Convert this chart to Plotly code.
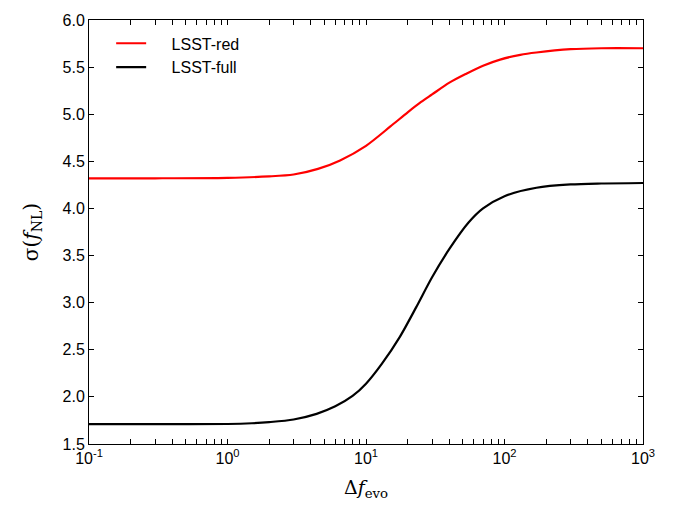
import plotly.graph_objects as go

# Data
x_red = [0.1, 0.3, 1.0, 2.0, 3.0, 4.5, 6.5, 10, 15, 20, 25, 30, 40, 53, 70, 93, 130, 170, 300, 500, 1000]
y_red = [4.32, 4.32, 4.325, 4.34, 4.36, 4.42, 4.51, 4.665, 4.87, 5.02, 5.13, 5.21, 5.335, 5.43, 5.515, 5.58, 5.63, 5.655, 5.69, 5.70, 5.70]

x_full = [0.1, 0.3, 1.0, 1.5, 2.0, 3.0, 4.4, 6.0, 8.0, 10, 13, 17.6, 23, 30, 40, 55, 70, 100, 170, 300, 500, 1000]
y_full = [1.71, 1.71, 1.712, 1.72, 1.732, 1.76, 1.82, 1.90, 2.01, 2.14, 2.35, 2.64, 2.95, 3.27, 3.57, 3.85, 4.00, 4.13, 4.22, 4.255, 4.265, 4.27]

x_major_vals = [0.1, 1, 10, 100, 1000]
x_major_text = ["10<sup>-1</sup>", "10<sup>0</sup>", "10<sup>1</sup>", "10<sup>2</sup>", "10<sup>3</sup>"]
x_minor_vals = [m * d for d in [0.1, 1, 10, 100] for m in range(2, 10)]
x_tickvals = x_major_vals + x_minor_vals
x_ticktext = x_major_text + [""] * len(x_minor_vals)
y_tickvals = [1.5, 2.0, 2.5, 3.0, 3.5, 4.0, 4.5, 5.0, 5.5, 6.0]
y_ticktext = [f"{v:.1f}" for v in y_tickvals]

pad = "\u2002\u2002 "

fig = go.Figure()
fig.add_trace(go.Scatter(x=x_red, y=y_red, mode="lines", name=pad + "LSST-red",
                         line=dict(color="#ff0000", width=2.2, shape="spline", smoothing=0.8)))
fig.add_trace(go.Scatter(x=x_full, y=y_full, mode="lines", name=pad + "LSST-full",
                         line=dict(color="#000000", width=2.2, shape="spline", smoothing=0.8)))

axis_common = dict(
    showgrid=False, zeroline=False, showline=True, linecolor="black", linewidth=1,
    mirror="ticks", ticks="inside", tickcolor="black", ticklen=5, tickwidth=1,
    tickfont=dict(family="Liberation Sans, Arial, sans-serif", size=16, color="black"),
)

fig.update_xaxes(
    type="log", range=[-1, 3], tickmode="array", tickvals=x_tickvals, ticktext=x_ticktext,
    title=dict(text="Δ<i>f</i><sub>evo</sub>",
               font=dict(family="DejaVu Serif, Liberation Serif, serif", size=19, color="black"),
               standoff=14),
    **axis_common,
)
fig.update_yaxes(
    range=[1.5, 6.0], tickmode="array", tickvals=y_tickvals, ticktext=y_ticktext,
    title=dict(text="σ(<i>f</i><sub>NL</sub>)",
               font=dict(family="DejaVu Serif, Liberation Serif, serif", size=20, color="black"),
               standoff=18),
    **axis_common,
)

fig.update_layout(
    width=673, height=510,
    margin=dict(l=89, r=30, t=16, b=66),
    paper_bgcolor="white", plot_bgcolor="white",
    showlegend=True,
    legend=dict(x=0.04, y=0.985, xanchor="left", yanchor="top",
                bgcolor="rgba(0,0,0,0)", borderwidth=0,
                font=dict(family="Liberation Sans, Arial, sans-serif", size=16, color="black"),
                tracegroupgap=0),
)

fig.write_html("out.html")
